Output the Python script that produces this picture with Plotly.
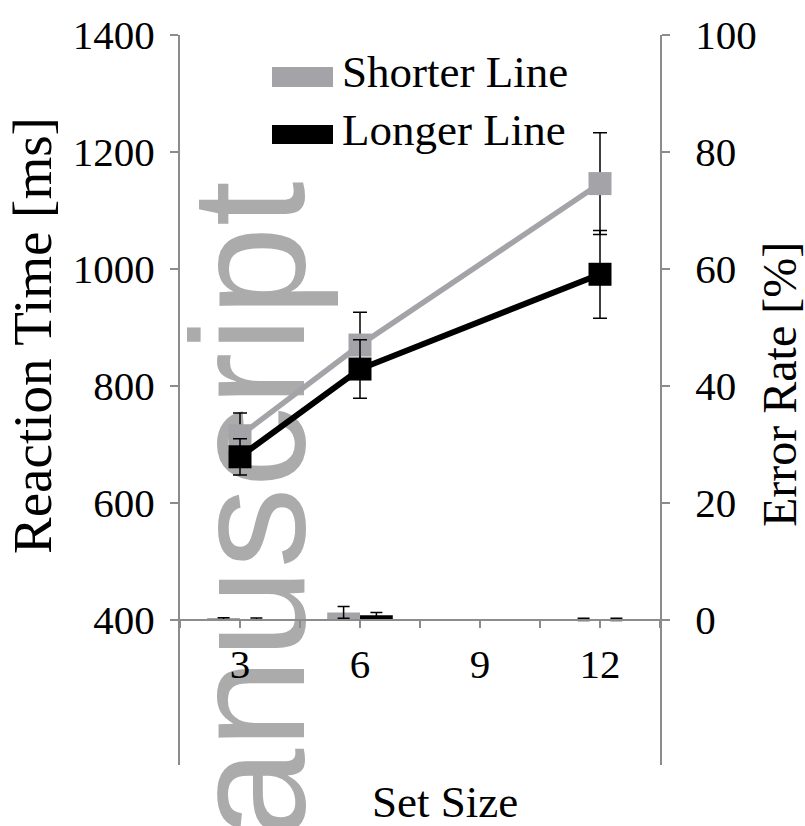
import plotly.graph_objects as go

# ---- data ----
set_sizes = [3, 6, 12]
rt_shorter = [715, 870, 1146]
rt_shorter_err = [39, 56, 87]
rt_longer = [679, 829, 991]
rt_longer_err = [31, 50, 75]
er_shorter = [0.2, 1.3, 0.1]
er_shorter_err = [0.2, 1.0, 0.2]
er_longer = [0.15, 0.8, 0.1]
er_longer_err = [0.2, 0.5, 0.2]
x_tick_vals = [1.5, 3, 4.5, 6, 7.5, 9, 10.5, 12, 13.5]
x_tick_text = ["", "3", "", "6", "", "9", "", "12", ""]
rt_ticks = [400, 600, 800, 1000, 1200, 1400]
er_ticks = [0, 20, 40, 60, 80, 100]
series_names = ["Shorter Line", "Longer Line"]

GRAY = "#A4A4A8"
BLACK = "#000000"
AXIS = "#8C8C8C"
SERIF = "Liberation Serif, Times New Roman, serif"

fig = go.Figure()

# reaction-time lines (left axis)
fig.add_trace(go.Scatter(x=set_sizes, y=rt_shorter, mode="lines+markers", name=series_names[0],
                         line=dict(color=GRAY, width=5.5),
                         marker=dict(symbol="square", size=23, color=GRAY),
                         error_y=dict(type="data", array=rt_shorter_err, color=BLACK, thickness=1.5, width=7),
                         showlegend=False))
fig.add_trace(go.Scatter(x=set_sizes, y=rt_longer, mode="lines+markers", name=series_names[1],
                         line=dict(color=BLACK, width=6),
                         marker=dict(symbol="square", size=23, color=BLACK),
                         error_y=dict(type="data", array=rt_longer_err, color=BLACK, thickness=1.5, width=7),
                         showlegend=False))

# error-rate bars (right axis)
fig.add_trace(go.Bar(x=set_sizes, y=er_shorter, yaxis="y2", width=0.82, offset=-0.82,
                     marker=dict(color=GRAY, line=dict(width=0)),
                     error_y=dict(type="data", array=er_shorter_err, color=BLACK, thickness=1.5, width=6),
                     showlegend=False, name=series_names[0]))
fig.add_trace(go.Bar(x=set_sizes, y=er_longer, yaxis="y2", width=0.82, offset=0,
                     marker=dict(color=BLACK, line=dict(width=0)),
                     error_y=dict(type="data", array=er_longer_err, color=BLACK, thickness=1.5, width=6),
                     showlegend=False, name=series_names[1]))

x_axis_pos = (765 - 620) / 730.0
rt_range = [400 - 145 * 1000 / 585.0, 1400]
er_range = [0 - 145 * 100 / 585.0, 100]

fig.update_layout(
    width=805, height=826, autosize=False,
    margin=dict(l=180, r=145, t=35, b=61, pad=0),
    paper_bgcolor="white", plot_bgcolor="rgba(0,0,0,0)",
    barmode="overlay",
    showlegend=False,
    xaxis=dict(range=[1.5, 13.5], tickmode="array", tickvals=x_tick_vals, ticktext=x_tick_text,
               anchor="free", position=x_axis_pos, showline=True, linecolor=AXIS, linewidth=2,
               ticks="outside", ticklen=7, tickwidth=2, tickcolor=AXIS, showgrid=False, zeroline=False,
               ticklabelstandoff=1,
               tickfont=dict(family=SERIF, size=41, color="black")),
    yaxis=dict(range=rt_range, tickmode="array", tickvals=rt_ticks, showline=True, linecolor=AXIS,
               linewidth=2, ticks="outside", ticklen=8, tickwidth=2, tickcolor=AXIS, showgrid=False,
               zeroline=False, ticklabelstandoff=7, anchor="x",
               tickfont=dict(family=SERIF, size=41, color="black")),
    yaxis2=dict(range=er_range, tickmode="array", tickvals=er_ticks, overlaying="y", side="right",
                showline=True, linecolor=AXIS, linewidth=2, ticks="outside", ticklen=8, tickwidth=2,
                tickcolor=AXIS, showgrid=False, zeroline=False, ticklabelstandoff=17, anchor="x",
                tickfont=dict(family=SERIF, size=41, color="black")),
)


def px_x(px):
    return (px - 180) / 480.0


def px_y(py):
    return (765 - py) / 730.0


annotations = [
    dict(text="Reaction Time [ms]", x=px_x(32), y=px_y(336), textangle=-90, size=55),
    dict(text="Error Rate [%]", x=px_x(779), y=px_y(385), textangle=-90, size=48),
    dict(text="Set Size", x=px_x(445), y=px_y(802), textangle=0, size=45),
    dict(text=series_names[0], x=px_x(340), y=px_y(72), textangle=0, xanchor="left", size=45),
    dict(text=series_names[1], x=px_x(340), y=px_y(130), textangle=0, xanchor="left", size=45),
]
for a in annotations:
    fig.add_annotation(text=a["text"], x=a["x"], y=a["y"], xref="paper", yref="paper",
                       textangle=a["textangle"], showarrow=False,
                       xanchor=a.get("xanchor", "center"), yanchor="middle",
                       font=dict(family=SERIF, size=a["size"], color="black"))

# legend swatches
fig.add_shape(type="rect", xref="paper", yref="paper", x0=px_x(272), x1=px_x(333),
              y0=px_y(87), y1=px_y(67), fillcolor=GRAY, line=dict(width=0))
fig.add_shape(type="rect", xref="paper", yref="paper", x0=px_x(272), x1=px_x(333),
              y0=px_y(144), y1=px_y(125), fillcolor=BLACK, line=dict(width=0))

# watermark (behind the data)
fig.add_shape(type="rect", xref="paper", yref="paper", x0=px_x(185), x1=px_x(279),
              y0=px_y(607), y1=px_y(413), fillcolor="rgba(0,0,0,0)", line=dict(width=0),
              layer="below",
              label=dict(text="anuscript", textangle=-90, textposition="middle center",
                         font=dict(family="Liberation Sans, Arial, sans-serif", size=162, color="#ABABAB")))

fig.write_html("out.html")
